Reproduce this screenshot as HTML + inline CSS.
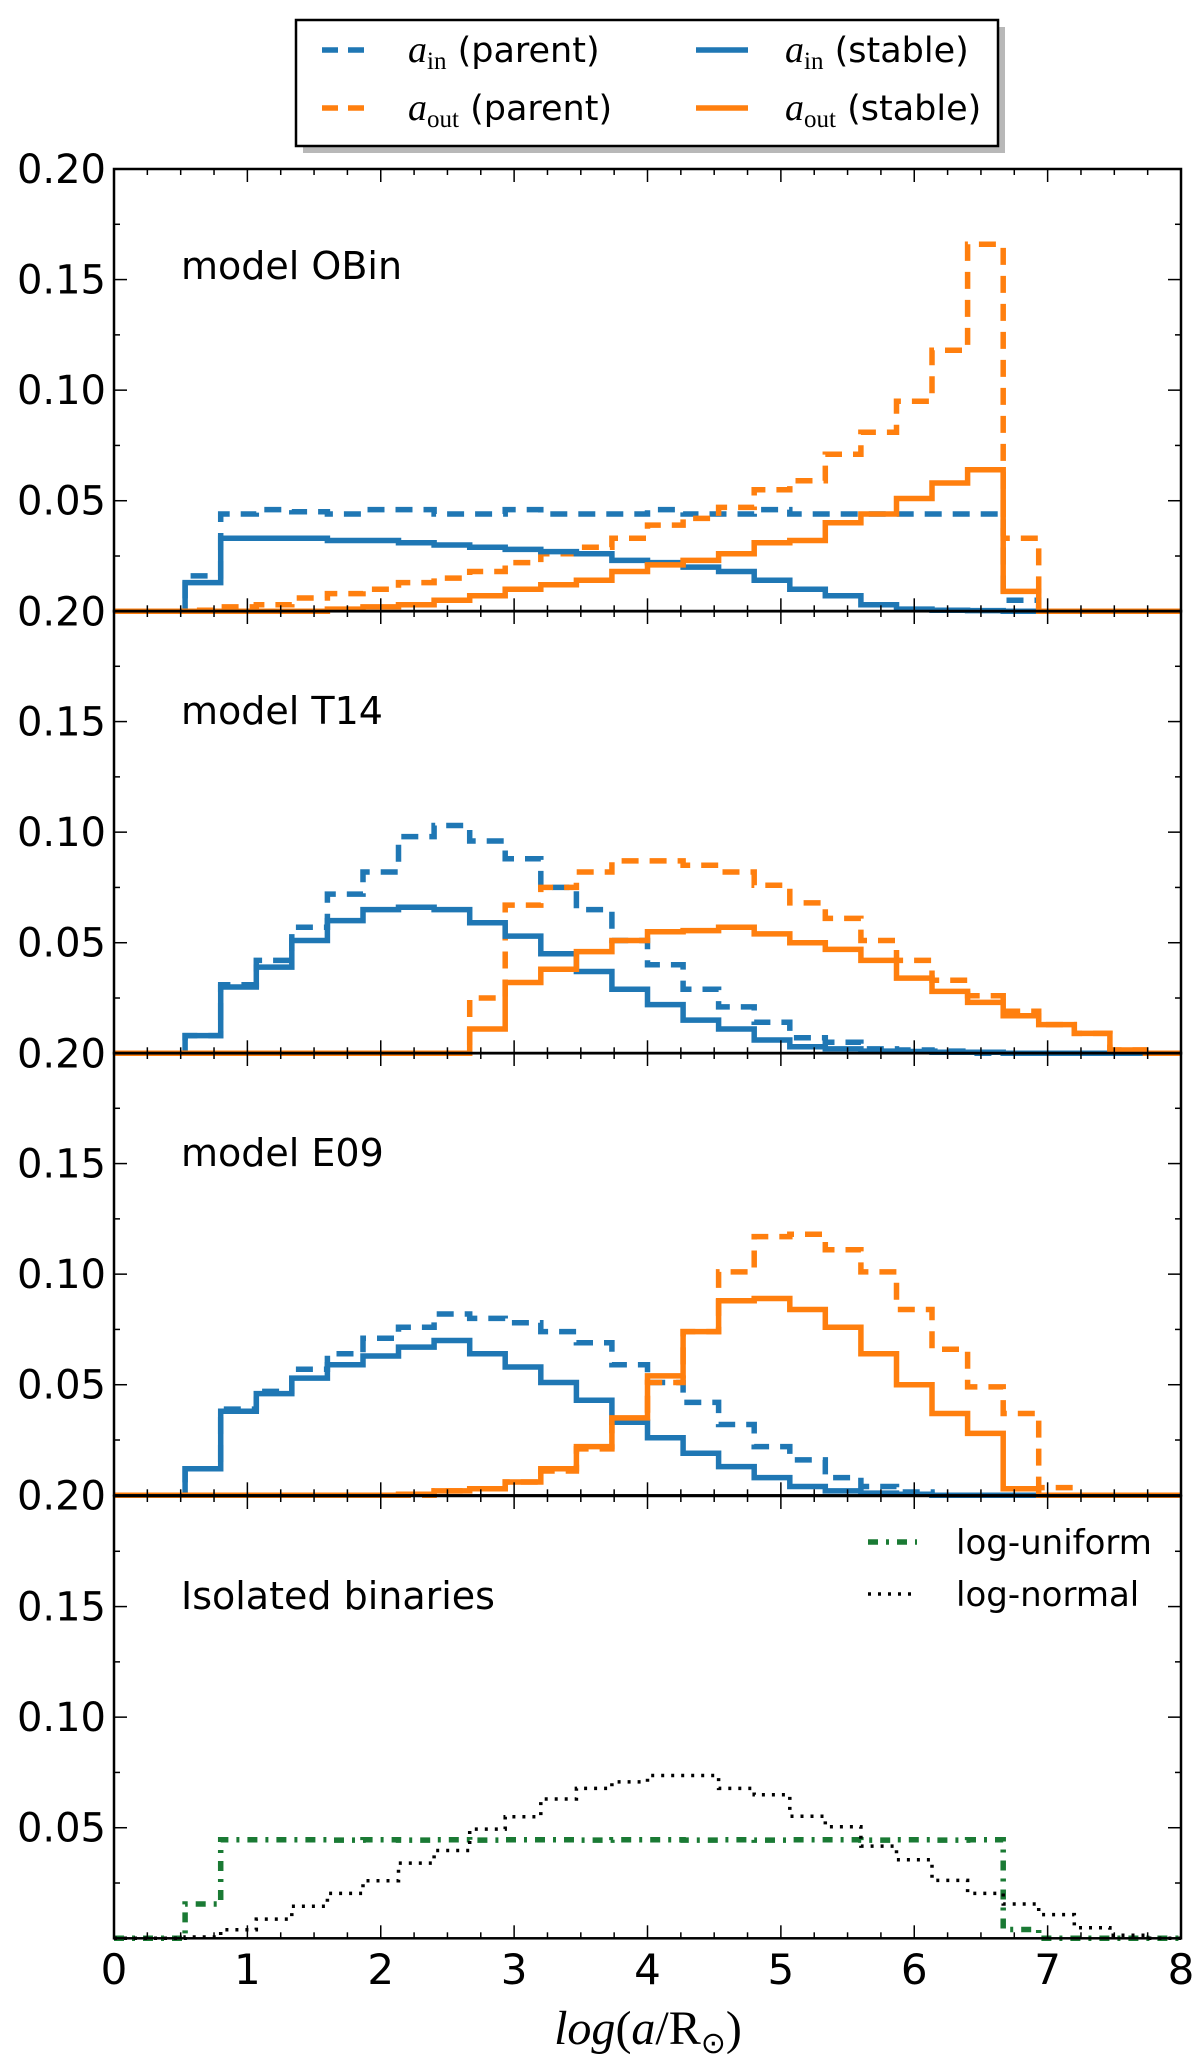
<!DOCTYPE html>
<html><head><meta charset="utf-8"><style>
html,body{margin:0;padding:0;background:#fff;}
svg text{font-family:"DejaVu Sans","Liberation Sans",sans-serif;}
</style></head><body>
<svg id="chart" width="1200" height="2067" xmlns="http://www.w3.org/2000/svg">
<g id="legend">
<rect x="303" y="27" width="702" height="126" fill="#b8b8b8"/>
<rect x="296" y="20" width="702" height="126" fill="#fff" stroke="#000" stroke-width="2.5"/>
<line x1="322" y1="50" x2="369" y2="50" stroke="#1f77b4" stroke-width="5.5" stroke-dasharray="16,10"/>
<text x="408" y="62" font-size="35"><tspan font-family="Liberation Serif,serif" font-style="italic" font-size="38">a</tspan><tspan font-family="Liberation Serif,serif" font-size="25" dy="7">in</tspan><tspan dy="-7"> (parent)</tspan></text>
<line x1="322" y1="108" x2="369" y2="108" stroke="#ff7f0e" stroke-width="5.5" stroke-dasharray="16,10"/>
<text x="408" y="120" font-size="35"><tspan font-family="Liberation Serif,serif" font-style="italic" font-size="38">a</tspan><tspan font-family="Liberation Serif,serif" font-size="25" dy="7">out</tspan><tspan dy="-7"> (parent)</tspan></text>
<line x1="696" y1="50" x2="748" y2="50" stroke="#1f77b4" stroke-width="5.5"/>
<text x="785" y="62" font-size="35"><tspan font-family="Liberation Serif,serif" font-style="italic" font-size="38">a</tspan><tspan font-family="Liberation Serif,serif" font-size="25" dy="7">in</tspan><tspan dy="-7"> (stable)</tspan></text>
<line x1="696" y1="108" x2="748" y2="108" stroke="#ff7f0e" stroke-width="5.5"/>
<text x="785" y="120" font-size="35"><tspan font-family="Liberation Serif,serif" font-style="italic" font-size="38">a</tspan><tspan font-family="Liberation Serif,serif" font-size="25" dy="7">out</tspan><tspan dy="-7"> (stable)</tspan></text>
</g>
<text x="648" y="2044" text-anchor="middle" font-size="48" style="font-family:'Liberation Serif',serif"><tspan font-style="italic">log</tspan>(<tspan font-style="italic">a</tspan>/R<tspan font-size="30" dy="9">⊙</tspan><tspan dy="-9">)</tspan></text>
</svg>
<script>
const binEdgesStart = 0, binEdgesEnd = 8, binCount = 30;
const panelNames = ["model OBin","model T14","model E09","Isolated binaries"];
const xTickLabels = ["0","1","2","3","4","5","6","7","8"];
const yTickValues = [0.05,0.10,0.15,0.20];
// OBin
const obinInParent = [0,0,0.016,0.044,0.046,0.045,0.044,0.046,0.046,0.044,0.044,0.046,0.044,0.044,0.044,0.046,0.044,0.044,0.046,0.044,0.044,0.044,0.044,0.044,0.044,0.005,0,0,0,0];
const obinOutParent = [0,0,0.0005,0.002,0.003,0.006,0.008,0.010,0.013,0.015,0.018,0.022,0.026,0.029,0.033,0.039,0.042,0.047,0.055,0.059,0.071,0.081,0.095,0.118,0.166,0.033,0,0,0,0];
const obinInStable = [0,0,0.013,0.033,0.033,0.033,0.032,0.032,0.031,0.030,0.029,0.028,0.027,0.026,0.023,0.022,0.020,0.018,0.014,0.010,0.007,0.003,0.001,0.0005,0.0003,0,0,0,0,0];
const obinOutStable = [0,0,0,0,0,0,0.001,0.002,0.003,0.005,0.007,0.010,0.012,0.014,0.018,0.021,0.023,0.026,0.031,0.032,0.040,0.044,0.051,0.058,0.064,0.009,0,0,0,0];
// T14
const t14InParent = [0,0,0.008,0.031,0.042,0.057,0.072,0.082,0.098,0.103,0.096,0.088,0.075,0.065,0.051,0.040,0.029,0.021,0.014,0.007,0.005,0.002,0.0015,0.001,0,0,0,0,0,0];
const t14OutParent = [0,0,0,0,0,0,0,0,0,0,0.025,0.067,0.075,0.082,0.087,0.087,0.085,0.082,0.076,0.068,0.061,0.051,0.042,0.033,0.026,0.019,0.013,0.009,0.0015,0];
const t14InStable = [0,0,0.008,0.030,0.039,0.051,0.060,0.065,0.066,0.065,0.059,0.053,0.045,0.037,0.029,0.022,0.015,0.011,0.006,0.003,0.002,0.001,0.0008,0.0005,0.0005,0,0,0,0,0];
const t14OutStable = [0,0,0,0,0,0,0,0,0,0,0.011,0.032,0.038,0.046,0.051,0.055,0.0555,0.057,0.054,0.050,0.047,0.042,0.034,0.028,0.023,0.017,0.013,0.009,0.0015,0];
// E09
const e09InParent = [0,0,0.012,0.039,0.047,0.057,0.064,0.071,0.076,0.082,0.080,0.078,0.074,0.069,0.059,0.051,0.042,0.032,0.022,0.016,0.008,0.004,0.0015,0,0,0,0,0,0,0];
const e09OutParent = [0,0,0,0,0,0,0,0,0,0.002,0.003,0.006,0.011,0.021,0.033,0.051,0.074,0.101,0.117,0.118,0.111,0.101,0.084,0.066,0.049,0.037,0.0035,0,0,0];
const e09InStable = [0,0,0.012,0.038,0.046,0.053,0.059,0.063,0.067,0.070,0.064,0.058,0.051,0.043,0.033,0.026,0.019,0.013,0.008,0.004,0.002,0.001,0.0005,0,0,0,0,0,0,0];
const e09OutStable = [0,0,0,0,0,0,0,0,0.0005,0.002,0.003,0.006,0.012,0.022,0.035,0.054,0.074,0.088,0.089,0.084,0.076,0.064,0.050,0.037,0.028,0.003,0,0,0,0];
// Isolated
const logUniform = [0,0,0.0155,0.0446,0.0446,0.0446,0.0444,0.0446,0.0444,0.0446,0.0444,0.0446,0.0446,0.0444,0.0446,0.0446,0.0444,0.0446,0.0444,0.0446,0.0446,0.0444,0.0446,0.0444,0.0446,0.004,0,0,0,0];
const logNormal = [0,0,0.0006,0.0039,0.0087,0.0145,0.0203,0.026,0.034,0.0397,0.0494,0.055,0.063,0.0678,0.0707,0.0736,0.0736,0.0678,0.0649,0.0552,0.0504,0.0417,0.0355,0.0262,0.0203,0.0155,0.0107,0.0048,0.0014,0];

const NS="http://www.w3.org/2000/svg";
const svg=document.getElementById('chart');
const X0=114,X1=1181,PT=[169,611,1053,1496],PH=442.3;
const xs=v=>X0+(v-binEdgesStart)/(binEdgesEnd-binEdgesStart)*(X1-X0);
function el(t,a,p){const e=document.createElementNS(NS,t);for(const k in a)e.setAttribute(k,a[k]);(p||svg).appendChild(e);return e;}
function stepPath(vals,ys){const w=(binEdgesEnd-binEdgesStart)/binCount;let d='M'+xs(0)+' '+ys(vals[0]);for(let i=0;i<vals.length;i++){if(i>0)d+=' V'+ys(vals[i]).toFixed(1);d+=' H'+xs(binEdgesStart+(i+1)*w).toFixed(1);}return d;}
const panels=[
 [[obinInParent,'#1f77b4','dash','blue-parent'],[obinOutParent,'#ff7f0e','dash','orange-parent'],[obinInStable,'#1f77b4','solid','blue-stable'],[obinOutStable,'#ff7f0e','solid','orange-stable']],
 [[t14InParent,'#1f77b4','dash','blue-parent'],[t14OutParent,'#ff7f0e','dash','orange-parent'],[t14InStable,'#1f77b4','solid','blue-stable'],[t14OutStable,'#ff7f0e','solid','orange-stable']],
 [[e09InParent,'#1f77b4','dash','blue-parent'],[e09OutParent,'#ff7f0e','dash','orange-parent'],[e09InStable,'#1f77b4','solid','blue-stable'],[e09OutStable,'#ff7f0e','solid','orange-stable']],
 [[logUniform,'#1a7a34','dashdot','log-uniform'],[logNormal,'#000','dot','log-normal']]
];
panels.forEach((series,p)=>{
 const top=PT[p],bot=top+PH;
 const ys=v=>bot-v/0.2*PH;
 const g=el('g',{});
 
 
 series.forEach(s=>{
  const a={d:stepPath(s[0],ys),fill:'none',stroke:s[1],'stroke-width':s[2]=='dot'?3.5:5.5};
  if(s[2]=='dash')a['stroke-dasharray']='17,11';
  if(s[2]=='dashdot')a['stroke-dasharray']='10,8,3,8';
  if(s[2]=='dot')a['stroke-dasharray']='3,7';
  const path=el('path',a,g);
  
  
 });
 for(let i=0;i<=32;i++){const x=xs(i*0.25);const L=(i%4==0)?13:6;
  el('line',{x1:x,y1:bot,x2:x,y2:bot-L,stroke:'#000','stroke-width':1.5},g);
  el('line',{x1:x,y1:top,x2:x,y2:top+L,stroke:'#000','stroke-width':1.5},g);}
 for(let i=1;i<8;i++){const y=ys(i*0.025);const L=(i%2==0)?13:6;
  el('line',{x1:X0,y1:y,x2:X0+L,y2:y,stroke:'#000','stroke-width':1.5},g);
  el('line',{x1:X1,y1:y,x2:X1-L,y2:y,stroke:'#000','stroke-width':1.5},g);}
 el('rect',{x:X0,y:top,width:X1-X0,height:PH,fill:'none',stroke:'#000','stroke-width':2.5},g);
 yTickValues.forEach(v=>{
  if(v==0.2&&p>0)return;
  const t=el('text',{x:106,y:ys(v)+14,'text-anchor':'end','font-size':40},g);
  
  
  t.textContent=v.toFixed(2);
 });
 if(p<3){const t=el('text',{x:106,y:bot+14,'text-anchor':'end','font-size':40},g);
  
  
  t.textContent='0.20';}
 const tt=el('text',{x:181,y:top+(p==0?110:113),'font-size':38},g);
 
 
 tt.textContent=panelNames[p];
});
xTickLabels.forEach((s,i)=>{
 const t=el('text',{x:xs(i),y:1984,'text-anchor':'middle','font-size':42});
 
 
 t.textContent=s;
});
const lg=el('g',{});


el('line',{x1:868,y1:1542,x2:917,y2:1542,stroke:'#1a7a34','stroke-width':5.5,'stroke-dasharray':'10,8,3,8'},lg);
el('line',{x1:868,y1:1594,x2:917,y2:1594,stroke:'#000','stroke-width':3.5,'stroke-dasharray':'3,7'},lg);
const t1=el('text',{x:956,y:1554,'font-size':34},lg);t1.textContent='log-uniform';


const t2=el('text',{x:956,y:1606,'font-size':34},lg);t2.textContent='log-normal';


</script>
</body></html>
